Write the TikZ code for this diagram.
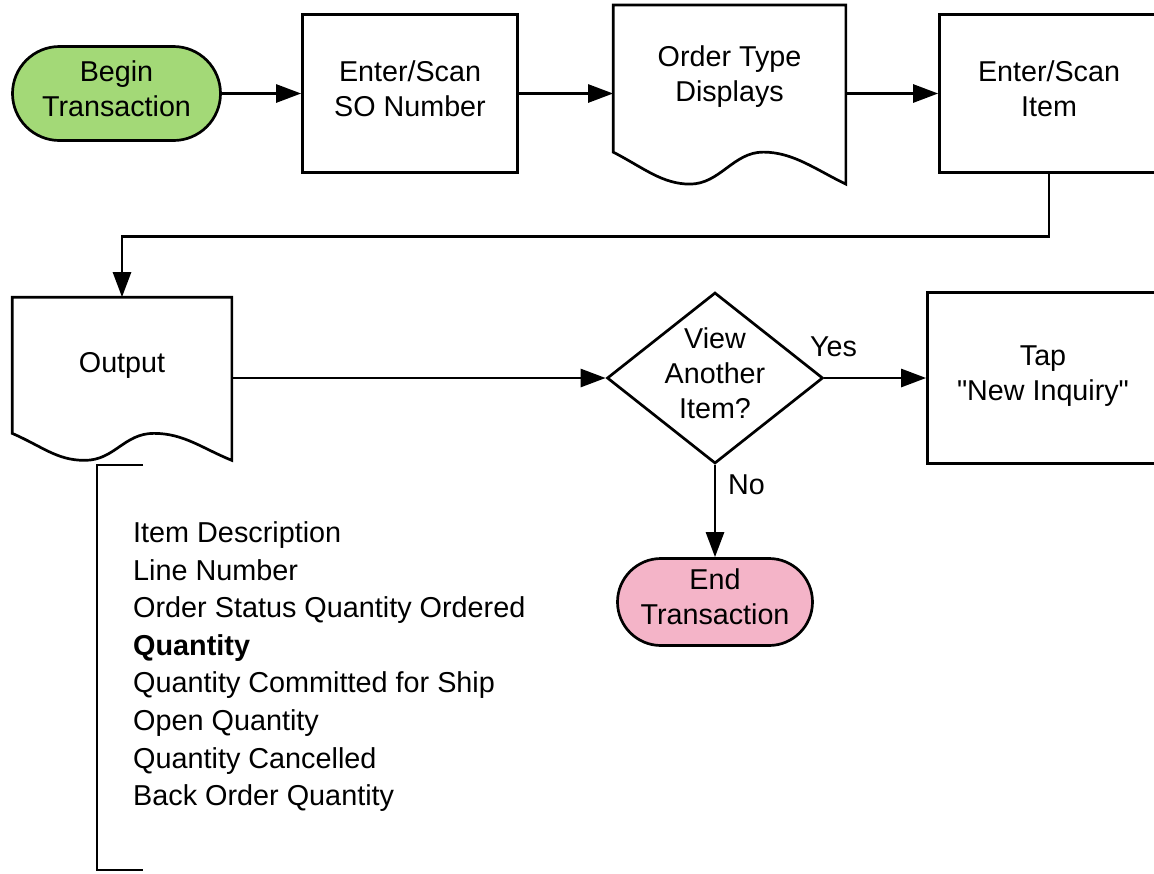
\documentclass[tikz,border=0pt]{standalone}
\usepackage{fontspec}
\setmainfont{Liberation Sans}
\usetikzlibrary{arrows.meta,shapes.geometric,shapes.misc,calc}
\definecolor{startgreen}{RGB}{163,217,119}
\definecolor{stoppink}{RGB}{244,180,200}

% document symbol: outline round node #1, wavy bottom #2 deep
\newcommand{\docshape}[2]{%
  \draw[line width=2.7pt] (#1.south west) -- (#1.north west) -- (#1.north east)
    -- ($(#1.south east)+(0,#2)$)
    .. controls +(-30,-0.45*#2) and +(30,0) .. ($(#1.south west)!0.645!(#1.south east)$)
    .. controls +(-30,0) and +(30,0) .. ($(#1.south west)!0.33!(#1.south east)+(0,#2)$)
    .. controls +(-28,0) and +(30,0.48*#2) .. (#1.south west) -- cycle;}

\begin{document}
\begin{tikzpicture}[x=1pt,y=-1pt,font=\fontsize{28.7}{35}\selectfont,
    box/.style={draw,line width=2.7pt,align=center,inner sep=0pt,
      execute at begin node=\strut,execute at end node=\strut},
    doc/.style={box,draw=none},
    terminal/.style={box,rounded rectangle},
    decision/.style={box,diamond,aspect=1.28,inner sep=-6pt,minimum width=216pt,minimum height=171pt},
    flow/.style={line width=2.7pt,-{Triangle[length=25pt,width=18pt]}}]
  \useasboundingbox (0,0) rectangle (1154,873);
  % top row
  \node[terminal,fill=startgreen,minimum width=208pt,minimum height=94pt] (begin) at (116.5,93.5) {Begin\\Transaction};
  \node[box,minimum width=215pt,minimum height=158pt] (scanso) at (410,93.5) {Enter/Scan\\SO Number};
  \node[doc,minimum width=230pt,minimum height=144.5pt] (ordertype) at (729.5,78.5) {Order Type\\Displays};
  \node[box,minimum width=219pt,minimum height=158pt] (scanitem) at (1049,93.5) {Enter/Scan\\Item};
  \docshape{ordertype}{32}
  % second row
  \node[doc,minimum width=217pt,minimum height=133.5pt] (output) at (122,365.25) {Output};
  \docshape{output}{27}
  \node[decision] (another) at (715,378) {View\\Another\\Item?};
  \node[box,minimum width=231pt,minimum height=171pt] (tap) at (1043,378) {Tap\\\textquotedbl New Inquiry\textquotedbl};
  \node[terminal,fill=stoppink,minimum width=195pt,minimum height=87pt] (finish) at (715,602) {End\\Transaction};
  \node[anchor=base west,inner sep=0pt] (yes) at (810,356) {Yes};
  \node[anchor=base west,inner sep=0pt] (no) at (728,494) {No};
  % fields shown in the output
  \node[anchor=north west,align=left,inner sep=0pt,font=\fontsize{28.8}{37.6}\selectfont] (fields) at (133,521.5)
    {Item Description\\Line Number\\Order Status Quantity Ordered\\\textbf{Quantity}\\Quantity Committed for Ship\\Open Quantity\\Quantity Cancelled\\Back Order Quantity};
  \draw[line width=2.7pt] (143,465) -| (97,870) -- (143,870);
  % connectors
  \draw[flow] (begin) -- (scanso);
  \draw[flow] (scanso) -- (scanso -| ordertype.west);
  \draw[flow] (ordertype.east |- scanitem) -- (scanitem);
  \draw[flow] (scanitem.south) -- ++(0,62.5) -| (output.north);
  \draw[flow] (output.east |- another) -- (another);
  \draw[flow] (another) -- (tap);
  \draw[flow] (another) -- (finish);
\end{tikzpicture}
\end{document}
